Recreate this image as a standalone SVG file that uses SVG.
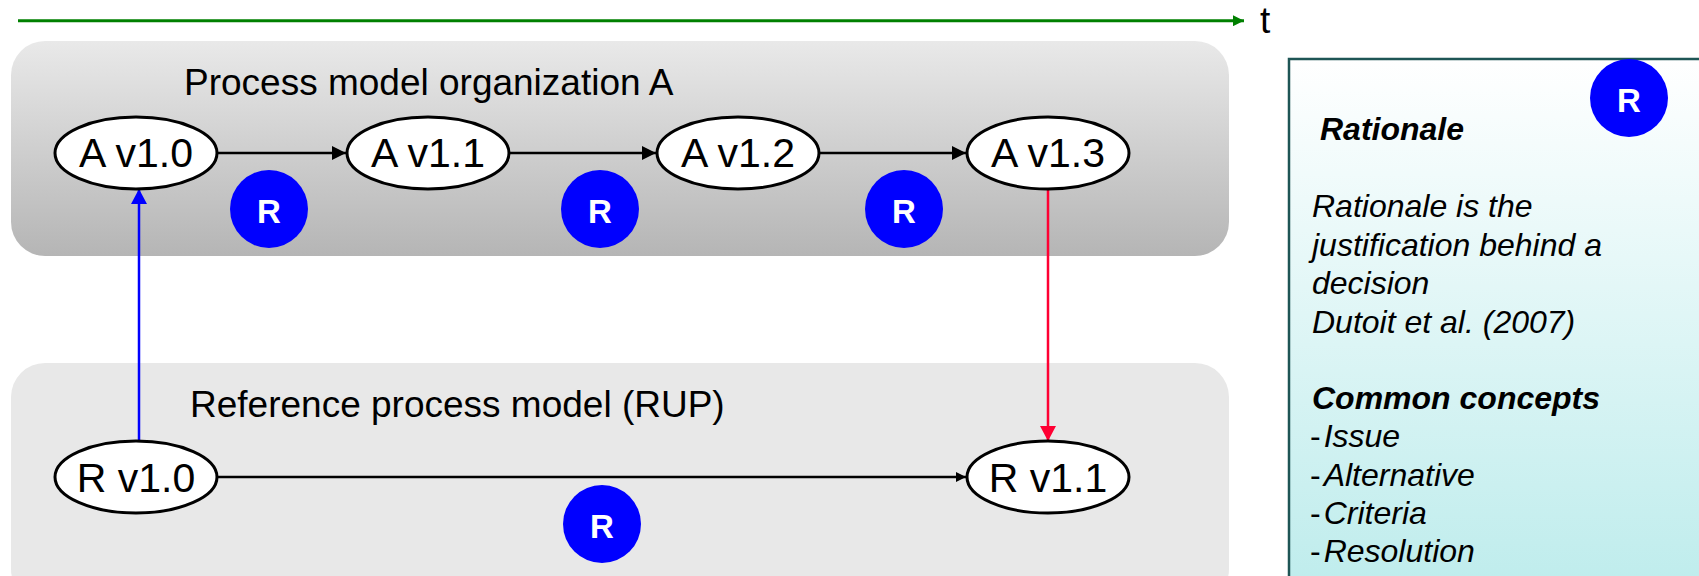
<svg xmlns="http://www.w3.org/2000/svg" width="1699" height="576" viewBox="0 0 1699 576">
<style>
.lbl{font-family:"Liberation Sans",Arial,sans-serif;fill:#000}
.node{fill:#fff;stroke:#000;stroke-width:3}
.ntxt{font-family:"Liberation Sans",Arial,sans-serif;font-size:41px;fill:#000;text-anchor:middle}
.rc{fill:#0000ff}
.rt{font-family:"Liberation Sans",Arial,sans-serif;font-size:33px;font-weight:bold;fill:#fff;text-anchor:middle}
.box{font-family:"Liberation Sans",Arial,sans-serif;font-size:32px;font-style:italic;fill:#000}
.dash{font-style:normal}
</style>
<defs>
<linearGradient id="gTop" x1="0" y1="0" x2="0" y2="1">
<stop offset="0" stop-color="#e9e9e9"/>
<stop offset="1" stop-color="#b5b5b5"/>
</linearGradient>
<linearGradient id="gBox" x1="0" y1="0" x2="0" y2="1">
<stop offset="0" stop-color="#ffffff"/>
<stop offset="1" stop-color="#bdecec"/>
</linearGradient>
<marker id="aBlack" markerWidth="10" markerHeight="10" refX="10" refY="5" orient="auto" markerUnits="userSpaceOnUse"><path d="M0,0 L10,5 L0,10 z" fill="#000"/></marker>
<marker id="aBigBlack" markerWidth="14" markerHeight="14" refX="14" refY="7" orient="auto" markerUnits="userSpaceOnUse"><path d="M0,0 L14,7 L0,14 z" fill="#000"/></marker>
<marker id="aBlue" markerWidth="16" markerHeight="16" refX="15" refY="8" orient="auto" markerUnits="userSpaceOnUse"><path d="M0,0 L15,8 L0,16 z" fill="#0000ff"/></marker>
<marker id="aRed" markerWidth="16" markerHeight="16" refX="15" refY="8" orient="auto" markerUnits="userSpaceOnUse"><path d="M0,0 L15,8 L0,16 z" fill="#ff0033"/></marker>
<marker id="aGreen" markerWidth="11" markerHeight="11" refX="11" refY="5.5" orient="auto" markerUnits="userSpaceOnUse"><path d="M0,0 L11,5.5 L0,11 z" fill="#008000"/></marker>
</defs>

<g id="timeline">
<line x1="18" y1="20.7" x2="1244" y2="20.7" stroke="#008000" stroke-width="3" marker-end="url(#aGreen)"/>
<text class="lbl" x="1260" y="33" font-size="37">t</text>
</g>

<g id="panel-A">
<rect x="11" y="41" width="1218" height="215" rx="34" fill="url(#gTop)"/>
<text class="lbl" x="184" y="95" font-size="37">Process model organization A</text>
</g>

<g id="panel-R">
<rect x="11" y="363" width="1218" height="240" rx="34" fill="#e8e8e8"/>
<text class="lbl" x="190" y="417" font-size="37">Reference process model (RUP)</text>
</g>

<g id="connectors">
<line x1="218" y1="153" x2="346" y2="153" stroke="#000" stroke-width="2.5" marker-end="url(#aBigBlack)"/>
<line x1="510" y1="153" x2="656" y2="153" stroke="#000" stroke-width="2.5" marker-end="url(#aBigBlack)"/>
<line x1="820" y1="153" x2="966" y2="153" stroke="#000" stroke-width="2.5" marker-end="url(#aBigBlack)"/>
<line x1="218" y1="477" x2="966" y2="477" stroke="#000" stroke-width="2.5" marker-end="url(#aBlack)"/>
<line x1="139" y1="440" x2="139" y2="189" stroke="#0000ff" stroke-width="2.5" marker-end="url(#aBlue)"/>
<line x1="1048" y1="189" x2="1048" y2="441" stroke="#ff0033" stroke-width="2.5" marker-end="url(#aRed)"/>
</g>

<g id="node-Av10"><ellipse class="node" cx="136" cy="153" rx="81" ry="36"/><text class="ntxt" x="136" y="167">A v1.0</text></g>
<g id="node-Av11"><ellipse class="node" cx="428" cy="153" rx="81" ry="36"/><text class="ntxt" x="428" y="167">A v1.1</text></g>
<g id="node-Av12"><ellipse class="node" cx="738" cy="153" rx="81" ry="36"/><text class="ntxt" x="738" y="167">A v1.2</text></g>
<g id="node-Av13"><ellipse class="node" cx="1048" cy="153" rx="81" ry="36"/><text class="ntxt" x="1048" y="167">A v1.3</text></g>
<g id="node-Rv10"><ellipse class="node" cx="136" cy="477" rx="81" ry="36"/><text class="ntxt" x="136" y="492">R v1.0</text></g>
<g id="node-Rv11"><ellipse class="node" cx="1048" cy="477" rx="81" ry="36"/><text class="ntxt" x="1048" y="492">R v1.1</text></g>

<g id="rationale-1"><circle class="rc" cx="269" cy="209" r="39"/><text class="rt" x="269" y="223">R</text></g>
<g id="rationale-2"><circle class="rc" cx="600" cy="209" r="39"/><text class="rt" x="600" y="223">R</text></g>
<g id="rationale-3"><circle class="rc" cx="904" cy="209" r="39"/><text class="rt" x="904" y="223">R</text></g>
<g id="rationale-4"><circle class="rc" cx="602" cy="524" r="39"/><text class="rt" x="602" y="538">R</text></g>

<g id="info-box">
<rect x="1289" y="59" width="420" height="540" fill="url(#gBox)" stroke="#1e5555" stroke-width="2.5"/>
<circle class="rc" cx="1629" cy="98" r="39"/><text class="rt" x="1629" y="112">R</text>
<text class="box" x="1320" y="140" font-weight="bold">Rationale</text>
<text class="box" x="1312" y="217">Rationale is the</text>
<text class="box" x="1312" y="256">justification behind a</text>
<text class="box" x="1312" y="294">decision</text>
<text class="box" x="1312" y="333">Dutoit et al. (2007)</text>
<text class="box" x="1312" y="409" font-weight="bold">Common concepts</text>
<text class="box" x="1310" y="447"><tspan class="dash">-</tspan><tspan dx="3">Issue</tspan></text>
<text class="box" x="1310" y="486"><tspan class="dash">-</tspan><tspan dx="3">Alternative</tspan></text>
<text class="box" x="1310" y="524"><tspan class="dash">-</tspan><tspan dx="3">Criteria</tspan></text>
<text class="box" x="1310" y="562"><tspan class="dash">-</tspan><tspan dx="3">Resolution</tspan></text>
</g>
</svg>
